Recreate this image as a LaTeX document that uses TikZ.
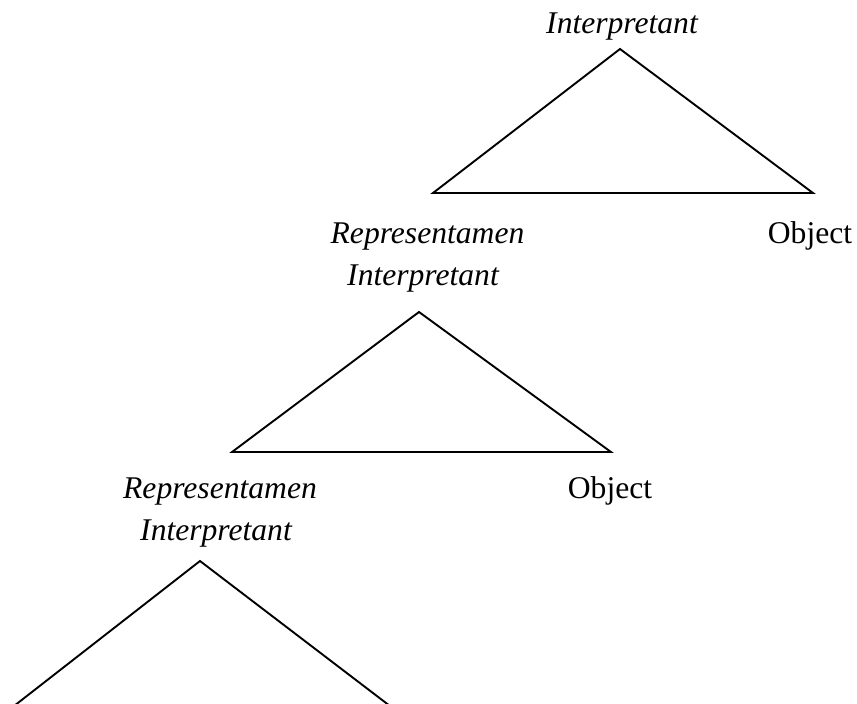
\documentclass[tikz,border=0pt]{standalone}
\usepackage{fontspec}
\setmainfont{Liberation Serif}
\begin{document}
\begin{tikzpicture}[x=1pt,y=-1pt,
  lbl/.style={anchor=base,inner sep=0pt,font=\fontsize{31.6}{38}\selectfont},
  ilbl/.style={lbl,font=\fontsize{31.6}{38}\selectfont\itshape},
  tri/.style={draw=black,line width=1.9pt,line join=miter}]
\useasboundingbox (0,0) rectangle (857,704);
\clip (0,0) rectangle (857,704);
% labels
\node[ilbl] (i1) at (622,33) {Interpretant};
\node[ilbl] (r1) at (427.5,243) {Representamen};
\node[lbl]  (o1) at (810,243) {Object};
\node[ilbl] (i2) at (423,285) {Interpretant};
\node[ilbl] (r2) at (220,498) {Representamen};
\node[lbl]  (o2) at (610,498) {Object};
\node[ilbl] (i3) at (216,540) {Interpretant};
% triangle vertices
\coordinate (a1) at (620,49);
\coordinate (b1) at (433,193);
\coordinate (c1) at (813,193);
\coordinate (a2) at (419,312);
\coordinate (b2) at (232,452);
\coordinate (c2) at (611,452);
\coordinate (a3) at (200,561);
\coordinate (b3) at (14,706);
\coordinate (c3) at (390,706);
\draw[tri] (a1) -- (b1) -- (c1) -- cycle;
\draw[tri] (a2) -- (b2) -- (c2) -- cycle;
\draw[tri] (a3) -- (b3) -- (c3) -- cycle;
\end{tikzpicture}
\end{document}
